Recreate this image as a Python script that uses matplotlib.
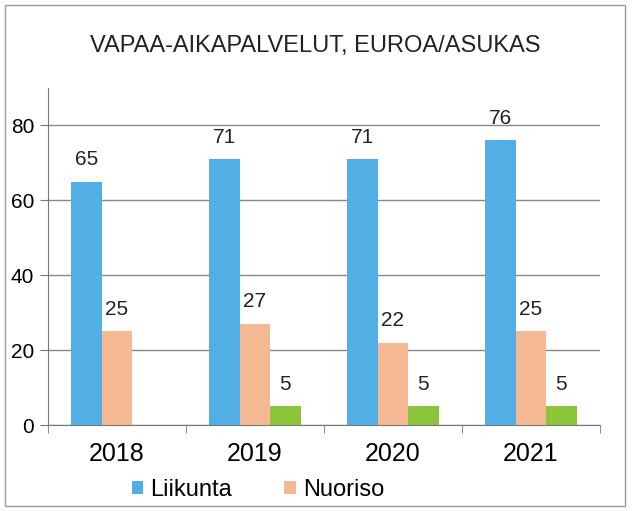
import matplotlib.pyplot as plt
import numpy as np
from matplotlib.patches import Rectangle

plt.rcParams['font.family'] = ['Liberation Sans', 'DejaVu Sans']

years = ['2018', '2019', '2020', '2021']
liikunta = [65, 71, 71, 76]
nuoriso = [25, 27, 22, 25]
muu = [np.nan, 5, 5, 5]  # third series, no legend entry visible

fig = plt.figure(figsize=(6.41, 5.11), dpi=100)
ax = fig.add_axes([48/641, 1 - 425/511, (600-48)/641, (425-88)/511])

x = np.arange(len(years))
w = 0.22
b1 = ax.bar(x - w, liikunta, w, color='#52afe6', label='Liikunta')
b2 = ax.bar(x, nuoriso, w, color='#f4b892', label='Nuoriso')
b3 = ax.bar(x + w, muu, w, color='#8cc43c')

for bars, vals in [(b1, liikunta), (b2, nuoriso), (b3, muu)]:
    for r, v in zip(bars, vals):
        if np.isnan(v):
            continue
        ax.annotate(str(v), (r.get_x() + r.get_width()/2, v), xytext=(0, 9),
                    textcoords='offset points', ha='center', va='bottom',
                    fontsize=15, color='#222222')

ax.set_xlim(-0.5, 3.5)
ax.set_ylim(0, 90)
ax.set_yticks([0, 20, 40, 60, 80])
ax.set_xticks(x)
ax.set_xticklabels(years, fontsize=18)
ax.set_xticks(np.arange(-0.5, 4, 1), minor=True)
ax.tick_params(axis='x', which='major', length=0, pad=12)
ax.tick_params(axis='x', which='minor', length=6, color='#777777')
ax.tick_params(axis='y', labelsize=15, length=6, color='#777777', pad=4)
ax.yaxis.grid(True, color='#888888', linewidth=1)
ax.set_axisbelow(True)
for s in ['top', 'right']:
    ax.spines[s].set_visible(False)
for s in ['left', 'bottom']:
    ax.spines[s].set_color('#777777')

fig.text(315/641, 1 - 46/511, 'VAPAA-AIKAPALVELUT, EUROA/ASUKAS', ha='center', va='center',
         fontsize=17, color='#222222')

fig.legend(handles=[b1, b2], loc='center', bbox_to_anchor=(258/641, 1 - 490/511), ncol=2,
           frameon=False, fontsize=17, handlelength=0.5, handleheight=0.5, handletextpad=0.3,
           columnspacing=2.2)

fig.patches.append(Rectangle((5/641, 0.01), 620/641, 0.98, transform=fig.transFigure,
                             fill=False, edgecolor='#999999', linewidth=1))

fig.savefig('out.png', dpi=100)
